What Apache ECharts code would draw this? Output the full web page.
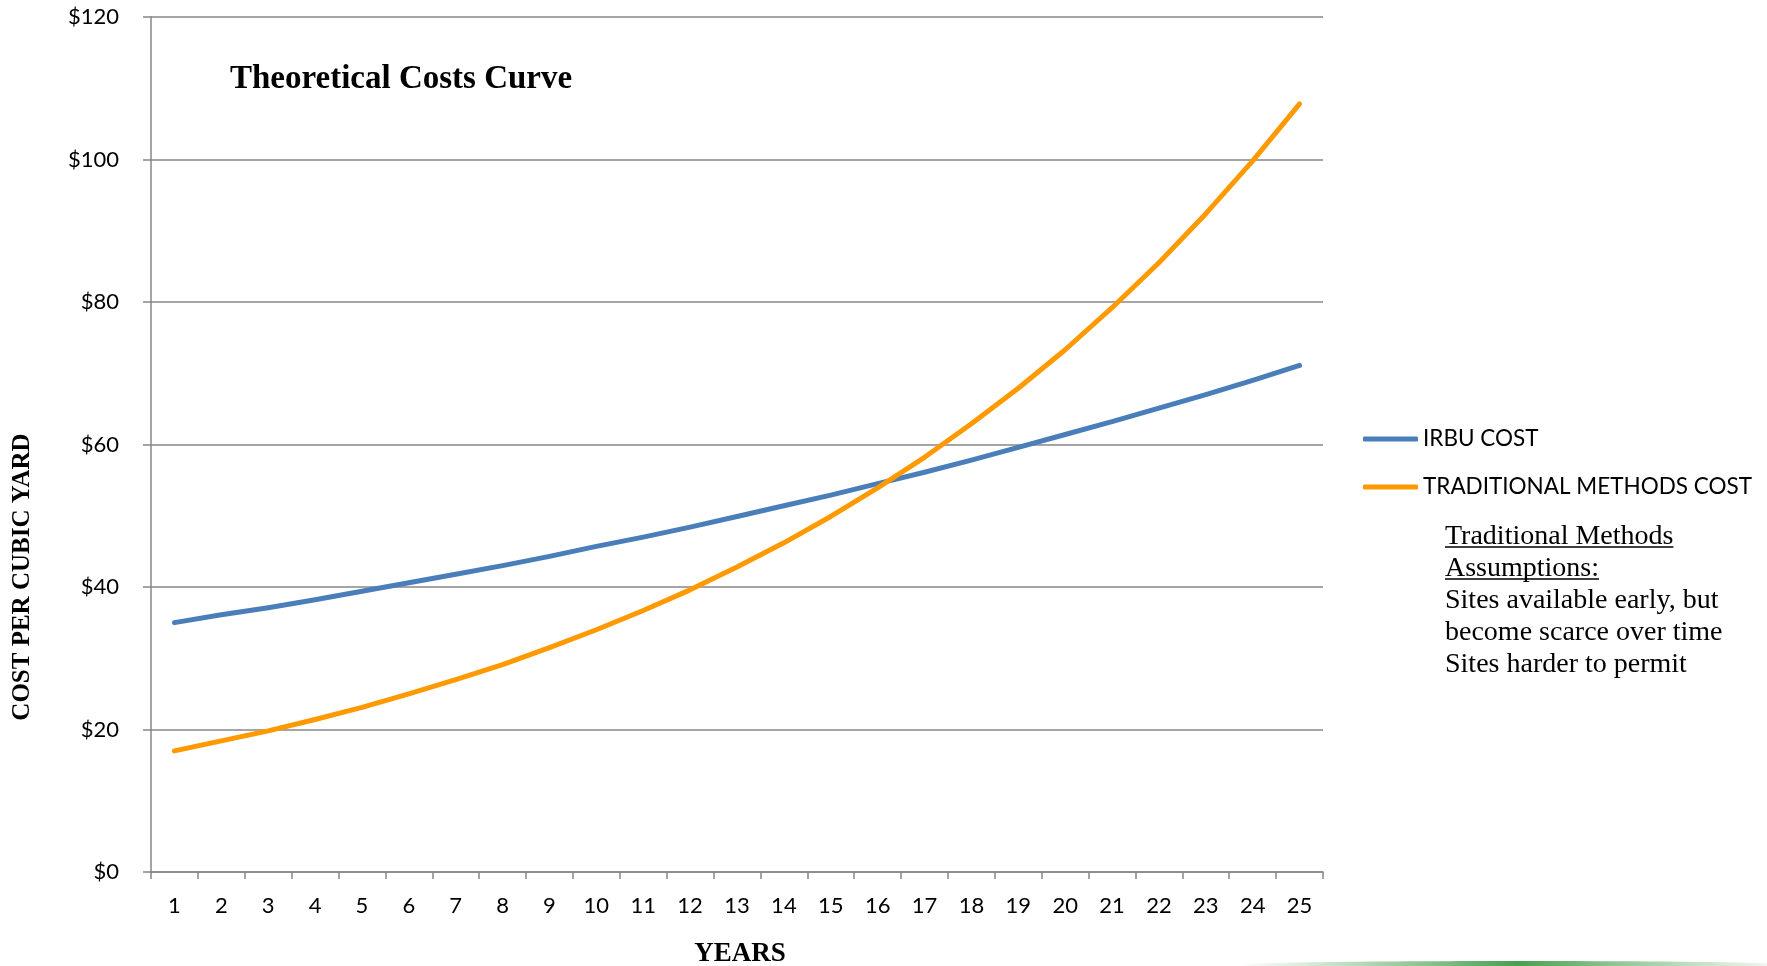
<!DOCTYPE html>
<html>
<head>
<meta charset="utf-8">
<script src="https://cdn.jsdelivr.net/npm/echarts@6/dist/echarts.min.js"></script>
<style>
html,body{margin:0;padding:0;background:#fff;}
#c{width:1767px;height:966px;}
</style>
</head>
<body>
<div id="c"></div>
<script>
const years = ['1','2','3','4','5','6','7','8','9','10','11','12','13','14','15','16','17','18','19','20','21','22','23','24','25'];
const irbuCost = [35.0,36.1,37.1,38.2,39.4,40.6,41.8,43.0,44.3,45.7,47.0,48.4,49.9,51.4,52.9,54.5,56.1,57.8,59.6,61.4,63.2,65.1,67.0,69.0,71.1];
const traditionalCost = [17.0,18.4,19.8,21.4,23.1,25.0,27.0,29.1,31.5,34.0,36.7,39.6,42.8,46.2,49.9,53.9,58.2,62.9,67.9,73.3,79.2,85.5,92.4,99.8,107.8];
const seriesNames = ['IRBU COST','TRADITIONAL METHODS COST'];
const titleText = 'Theoretical Costs Curve';
const yAxisTitle = 'COST PER CUBIC YARD';
const xAxisTitle = 'YEARS';
const noteUnderlined = ['Traditional Methods','Assumptions:'];
const notePlain = ['Sites available early, but','become scarce over time','Sites harder to permit'];

const serifFont = '"Liberation Serif", "DejaVu Serif", serif';
const sansFont = 'Lato, "Open Sans", sans-serif';
const grey = '#878787';

function measure(text, font){
  const cv = document.createElement('canvas').getContext('2d');
  cv.font = font;
  return cv.measureText(text).width;
}

const noteLeft = 1445, noteTop = 521, noteLH = 32, noteSize = 28;
const graphics = [
  {type:'text', left:230, top:63, style:{text:titleText, font:'bold 33px ' + serifFont, fill:'#000'}},
  {type:'text', x:23, y:577, rotation:Math.PI/2, style:{text:yAxisTitle, font:'bold 25px ' + serifFont, fill:'#000', align:'center', verticalAlign:'middle'}},
  {type:'text', x:740, y:954, style:{text:xAxisTitle, font:'bold 27px ' + serifFont, fill:'#000', align:'center', verticalAlign:'middle'}}
];
const allNotes = noteUnderlined.concat(notePlain);
allNotes.forEach(function(t, i){
  const cy = noteTop + noteLH * i + noteLH / 2;
  graphics.push({type:'text', x:noteLeft, y:cy, style:{text:t, font:noteSize + 'px ' + serifFont, fill:'#000', verticalAlign:'middle'}});
  if (i < noteUnderlined.length) {
    const w = measure(t, noteSize + 'px "Liberation Serif"');
    graphics.push({type:'line', shape:{x1:noteLeft, y1:cy + 10, x2:noteLeft + w, y2:cy + 10}, style:{stroke:'#000', lineWidth:1.3}});
  }
});
graphics.push({
  type:'ellipse', shape:{cx:1517, cy:965, rx:280, ry:4},
  style:{fill:new echarts.graphic.LinearGradient(0,0,1,0,[
    {offset:0,color:'rgba(80,170,80,0)'},
    {offset:0.5,color:'rgba(50,150,60,0.9)'},
    {offset:1,color:'rgba(80,170,80,0)'}
  ])}
});

const chart = echarts.init(document.getElementById('c'));
chart.setOption({
  animation:false,
  backgroundColor:'#fff',
  grid:{left:151, right:444, top:17, bottom:94, containLabel:false},
  legend:{
    orient:'vertical', left:1358, top:422,
    itemWidth:55, itemHeight:5, itemGap:24, icon:'roundRect',
    textStyle:{fontFamily:sansFont, fontSize:22.5, color:'#000', lineHeight:24},
    data:seriesNames
  },
  xAxis:{
    type:'category', data:years, boundaryGap:true,
    axisLine:{lineStyle:{color:grey, width:1.5}},
    axisTick:{show:true, length:7, lineStyle:{color:grey, width:1.5}},
    axisLabel:{fontFamily:sansFont, fontSize:22, color:'#000', margin:23, interval:0},
    splitLine:{show:false}
  },
  yAxis:{
    type:'value', min:0, max:120, interval:20,
    axisLine:{show:true, lineStyle:{color:grey, width:1.5}},
    axisTick:{show:true, length:8, lineStyle:{color:grey, width:1.5}},
    axisLabel:{fontFamily:sansFont, fontSize:22, color:'#000', margin:32, formatter:function(v){return '$' + v;}},
    splitLine:{show:true, lineStyle:{color:grey, width:1.5}}
  },
  series:[
    {name:seriesNames[0], type:'line', data:irbuCost, showSymbol:false, smooth:false,
     lineStyle:{color:'#4a7ebb', width:5, cap:'round', join:'round'}, itemStyle:{color:'#4a7ebb'}},
    {name:seriesNames[1], type:'line', data:traditionalCost, showSymbol:false, smooth:false,
     lineStyle:{color:'#ff9900', width:5, cap:'round', join:'round'}, itemStyle:{color:'#ff9900'}}
  ],
  graphic:graphics
});
</script>
</body>
</html>
